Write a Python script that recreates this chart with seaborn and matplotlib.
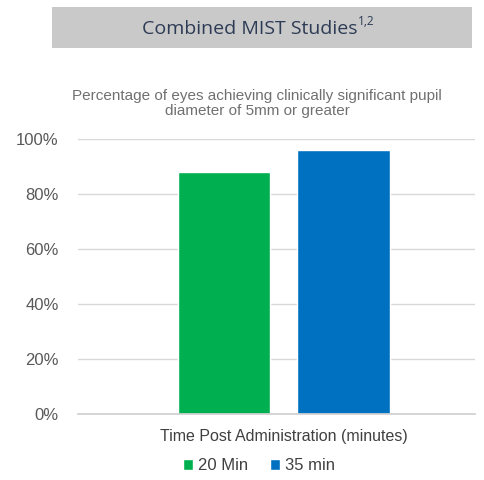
import matplotlib
matplotlib.use("Agg")
import matplotlib.pyplot as plt
import seaborn as sns
import pandas as pd
from matplotlib.patches import Rectangle

# Data
category = ["Time Post Administration (minutes)"]
groups = ["20 Min", "35 min"]
values = [0.88, 0.96]
y_ticks = [0, 0.2, 0.4, 0.6, 0.8, 1.0]
y_tick_labels = ["0%", "20%", "40%", "60%", "80%", "100%"]
colors = ["#00b050", "#0070c0"]

df = pd.DataFrame({"cat": category * len(groups), "group": groups, "value": values})

sns.set_theme(style="white")
plt.rcParams["font.family"] = ["Liberation Sans", "DejaVu Sans"]

fig = plt.figure(figsize=(4.85, 4.80), dpi=100)
ax = fig.add_axes([0.161, 0.1375, 0.818, 0.573])

sns.barplot(data=df, x="cat", y="value", hue="group", palette=colors,
            width=0.6, gap=0.22, saturation=1, ax=ax)

ax.set_ylim(0, 1.0)
ax.set_xlim(-0.518, 0.482)
ax.set_yticks(y_ticks)
ax.set_yticklabels(y_tick_labels, fontsize=12, color="#595959")
ax.tick_params(axis="x", labelsize=11.5, colors="#404040", length=0, pad=11)
ax.tick_params(axis="y", length=0, pad=14)
ax.set_xlabel("")
ax.set_ylabel("")
ax.yaxis.grid(True, color="#d9d9d9", linewidth=1)
ax.set_axisbelow(True)
for s in ["top", "right", "left"]:
    ax.spines[s].set_visible(False)
ax.spines["bottom"].set_color("#d0d0d0")

ax.legend(loc="center", bbox_to_anchor=(0.456, -0.189), ncol=2, frameon=False,
          fontsize=12, handlelength=0.6, handleheight=0.6, handletextpad=0.3,
          columnspacing=1.3, labelcolor="#404040")

ax.text(0.451, 1.129, "Percentage of eyes achieving clinically significant pupil\ndiameter of 5mm or greater",
        transform=ax.transAxes, ha="center", va="center", fontsize=11, color="#707070",
        linespacing=1.05)

# header box
fig.patches.append(Rectangle((0.107, 0.9), 0.866, 0.085, transform=fig.transFigure,
                             facecolor="#c9c9c9", edgecolor="none"))
fig.text(0.515, 0.94, "Combined MIST Studies", ha="center", va="center",
         fontsize=14, color="#2d3b55", family=["Open Sans", "DejaVu Sans"])
fig.text(0.738, 0.955, "1,2", ha="left", va="center",
         fontsize=8.5, color="#2d3b55", family=["Open Sans", "DejaVu Sans"])

fig.savefig("out.png", dpi=100)
